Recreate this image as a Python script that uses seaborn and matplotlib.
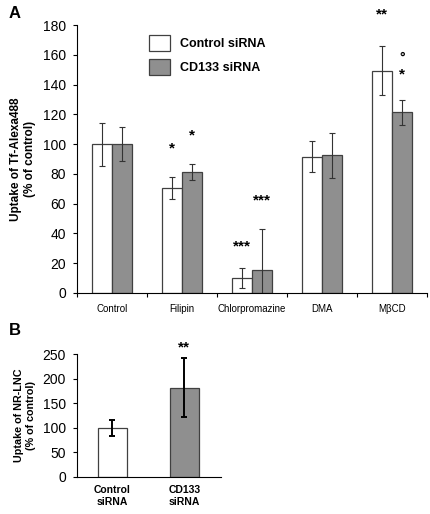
import numpy as np
import pandas as pd
import matplotlib
matplotlib.use("Agg")
import matplotlib.pyplot as plt
import seaborn as sns
from matplotlib.patches import Patch

# ----------- Data --------------

treatments = ["Control", "Filipin", "Chlorpromazine", "DMA", "M\u03b2CD"]
groups = ["Control siRNA", "CD133 siRNA"]
ctrl_vals = [100, 70.5, 10, 91.5, 149.5]
ctrl_err = [14.5, 7.5, 6.5, 10.5, 16.5]
cd133_vals = [100, 81.5, 15.5, 92.5, 121.5]
cd133_err = [11.5, 5.5, 27.5, 15, 8.5]

# significance marks: (treatment index, group index, text, y position)
marks_a = [(1, 0, "*", 97), (1, 1, "*", 106),
           (2, 0, "***", 31), (2, 1, "***", 62),
           (4, 0, "**", 187), (4, 1, "*", 147), (4, 1, "\u00b0", 158)]

b_labels = ["Control\nsiRNA", "CD133\nsiRNA"]
b_vals = [100, 182]
b_err = [17, 60]
b_mark = "**"
b_mark_y = 264

colors = {"Control siRNA": "white", "CD133 siRNA": "#8f8f8f"}

plt.rcParams["font.family"] = ["Liberation Sans", "DejaVu Sans"]

df_a = pd.DataFrame({
    "treatment": treatments * 2,
    "group": [groups[0]] * 5 + [groups[1]] * 5,
    "value": ctrl_vals + cd133_vals,
    "err": ctrl_err + cd133_err,
})
df_b = pd.DataFrame({"group": b_labels, "value": b_vals, "err": b_err})

fig = plt.figure(figsize=(4.3, 5.14), dpi=100)
ax_a = fig.add_axes([0.179, 0.430, 0.814, 0.521])
ax_b = fig.add_axes([0.179, 0.072, 0.335, 0.239])

# ------------ Panel A --------------

sns.barplot(data=df_a, x="treatment", y="value", hue="group", palette=colors,
            width=0.58, edgecolor="#404040", linewidth=0.9, errorbar=None,
            legend=False, ax=ax_a)

centers = {}
for i, g in enumerate(groups):
    sub = df_a[df_a["group"] == g]
    bars = ax_a.patches[i * 5:(i + 1) * 5]
    xs = [b.get_x() + b.get_width() / 2 for b in bars]
    centers[i] = xs
    ax_a.errorbar(xs, sub["value"], yerr=sub["err"], fmt="none",
                  ecolor="#333333", elinewidth=0.8, capsize=2.2, capthick=0.8,
                  clip_on=True)

for t, g, txt, y in marks_a:
    ax_a.text(centers[g][t], y, txt, ha="center", va="center",
              fontsize=11 if txt != "\u00b0" else 10, fontweight="bold",
              clip_on=False)

ax_a.set_ylim(0, 180)
ax_a.set_xlim(-0.5, 4.5)
ax_a.set_yticks(np.arange(0, 181, 20))
ax_a.set_xticks(np.arange(-0.5, 4.6, 1), minor=False)
ax_a.set_xticklabels([])
ax_a.set_xticks(range(5), minor=True)
ax_a.set_xticklabels(treatments, minor=True, fontsize=7)
ax_a.tick_params(axis="x", which="minor", length=0, pad=8)
ax_a.tick_params(axis="x", which="major", length=3, width=0.8)
ax_a.tick_params(axis="y", labelsize=10, length=3, width=0.8, pad=5)
ax_a.spines["top"].set_visible(False)
ax_a.spines["right"].set_visible(False)
for s in ["left", "bottom"]:
    ax_a.spines[s].set_linewidth(0.8)
ax_a.set_xlabel("")
ax_a.set_ylabel("Uptake of Tf-Alexa488\n(% of control)", fontsize=8.5,
                fontweight="bold", labelpad=5)

handles = [Patch(facecolor=colors[g], edgecolor="#404040", linewidth=0.9)
           for g in groups]
ax_a.legend(handles, groups, loc="upper left", bbox_to_anchor=(0.174, 1.007),
            frameon=False, handlelength=1.7, handleheight=1.6,
            labelspacing=0.65, handletextpad=0.75,
            prop={"weight": "bold", "size": 9})

# ------------ Panel B --------------

sns.barplot(data=df_b, x="group", y="value", hue="group",
            palette=["white", "#8f8f8f"], width=0.4, edgecolor="#404040",
            linewidth=0.9, errorbar=None, legend=False, ax=ax_b)
ax_b.errorbar(range(2), df_b["value"], yerr=df_b["err"], fmt="none",
              ecolor="black", elinewidth=1.4, capsize=2, capthick=1.4)
ax_b.text(1, b_mark_y, b_mark, ha="center", va="center", fontsize=11,
          fontweight="bold", clip_on=False)
ax_b.set_ylim(0, 250)
ax_b.set_xlim(-0.49, 1.51)
ax_b.set_yticks(np.arange(0, 251, 50))
ax_b.tick_params(axis="x", length=0, labelsize=7.5, pad=6)
for lbl in ax_b.get_xticklabels():
    lbl.set_fontweight("bold")
ax_b.tick_params(axis="y", labelsize=10, length=3, width=0.8, pad=5)
ax_b.spines["top"].set_visible(False)
ax_b.spines["right"].set_visible(False)
for s in ["left", "bottom"]:
    ax_b.spines[s].set_linewidth(0.8)
ax_b.set_xlabel("")
ax_b.set_ylabel("Uptake of NR-LNC\n(% of control)", fontsize=7.75,
                fontweight="bold", labelpad=5)

fig.text(0.02, 0.988, "A", fontsize=12, fontweight="bold", va="top")
fig.text(0.02, 0.372, "B", fontsize=12, fontweight="bold", va="top")

fig.savefig("out.png", dpi=100)
